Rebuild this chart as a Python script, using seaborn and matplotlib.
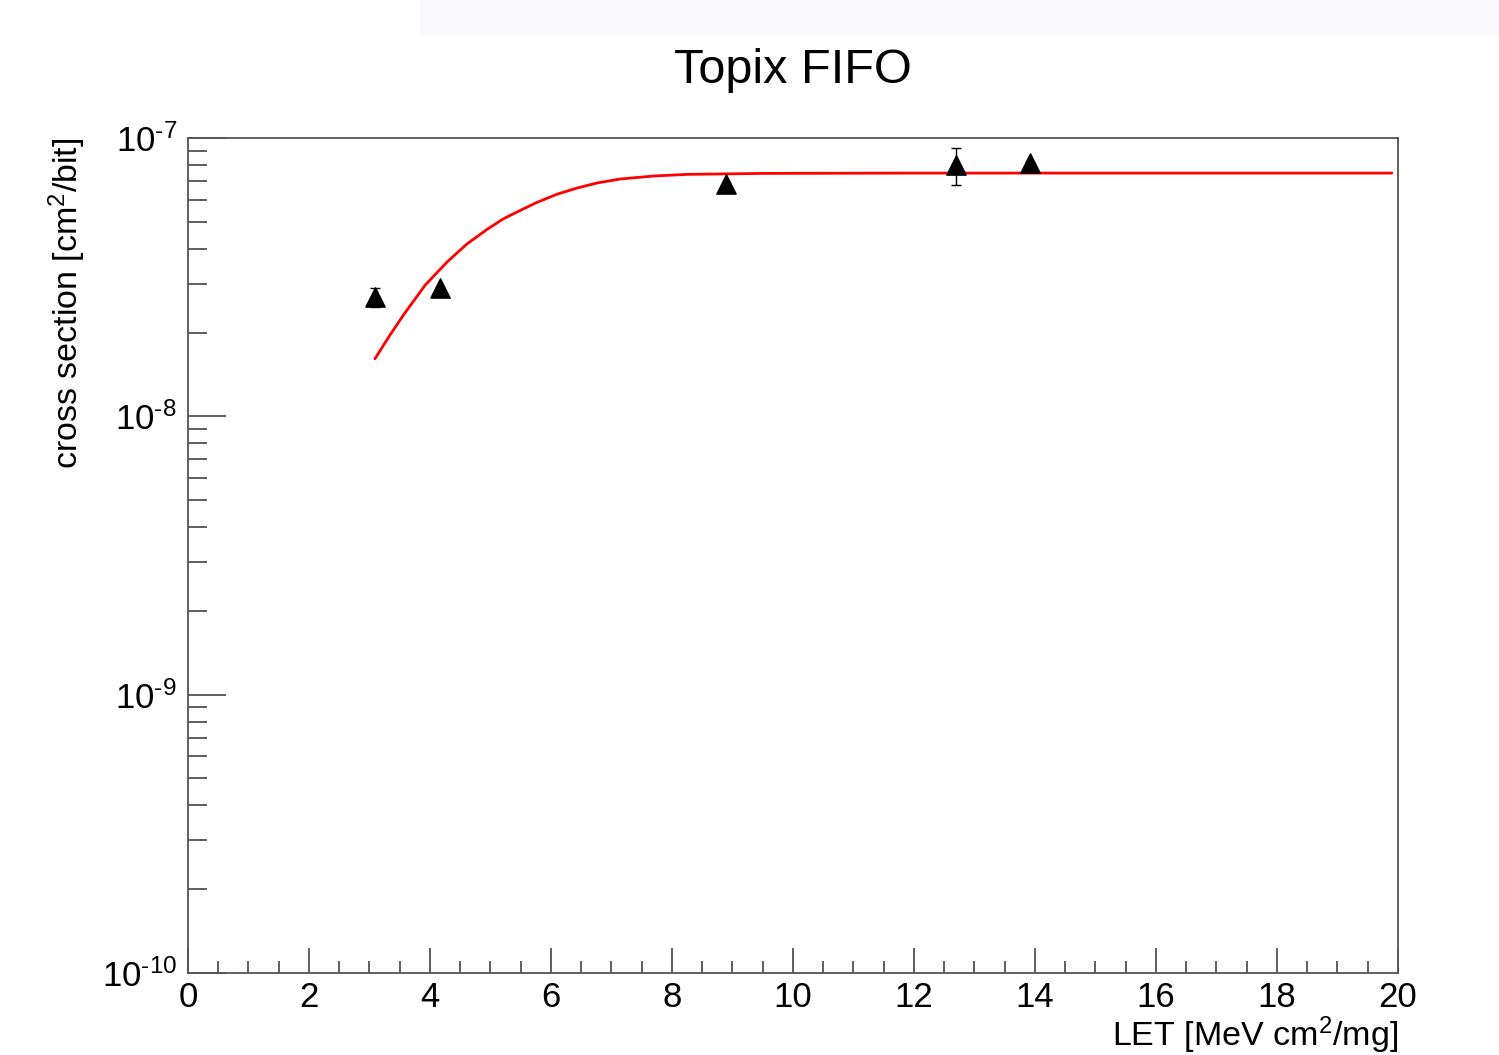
import numpy as np
import pandas as pd
import seaborn as sns
import matplotlib.pyplot as plt
from matplotlib.ticker import MultipleLocator, LogLocator, NullFormatter, FixedLocator
from matplotlib.patches import Rectangle

# measured points (LET, cross section, error)
let_pts = [3.09, 4.17, 8.90, 12.69, 13.91]
xs_pts = [2.68e-8, 2.90e-8, 6.85e-8, 8.00e-8, 8.11e-8]
xs_err = [0.21e-8, 0.0, 0.0, 1.2e-8, 0.0]

# fit curve
fit_let = [3.09, 3.34, 3.56, 3.92, 4.28, 4.61, 4.94, 5.21, 5.49, 5.76, 6.09, 6.43,
           6.76, 7.14, 7.69, 8.24, 9.5, 12.0, 16.0, 19.9]
fit_xs = [1.61e-8, 1.96e-8, 2.31e-8, 2.96e-8, 3.58e-8, 4.16e-8, 4.69e-8, 5.12e-8,
          5.49e-8, 5.86e-8, 6.27e-8, 6.61e-8, 6.89e-8, 7.12e-8, 7.30e-8, 7.40e-8,
          7.46e-8, 7.48e-8, 7.48e-8, 7.48e-8]

y_ticks = [1e-10, 1e-9, 1e-8, 1e-7]
y_ticklabels = [r'$10^{\text{-10}}$', r'$10^{\text{-9}}$', r'$10^{\text{-8}}$', r'$10^{\text{-7}}$']

sns.set_style('white')
plt.rcParams['font.family'] = ['Liberation Sans', 'DejaVu Sans']
plt.rcParams['mathtext.fontset'] = 'custom'
plt.rcParams['mathtext.rm'] = 'Liberation Sans'
plt.rcParams['mathtext.it'] = 'Liberation Sans'
plt.rcParams['text.color'] = 'black'
plt.rcParams['axes.labelcolor'] = 'black'
plt.rcParams['xtick.color'] = 'black'
plt.rcParams['ytick.color'] = 'black'

fig = plt.figure(figsize=(14.99, 10.55), dpi=100)
fig.patches.append(Rectangle((0.28, 0.968), 0.72, 0.032, transform=fig.transFigure,
                             color='#fafafd', zorder=0))
ax = fig.add_axes([0.1254, 0.0777, 0.8072, 0.7915])

pts = pd.DataFrame({'let': let_pts, 'xs': xs_pts})
fit = pd.DataFrame({'let': fit_let, 'xs': fit_xs})

sns.lineplot(data=fit, x='let', y='xs', color='#ff0000', linewidth=2, ax=ax, sort=False)
ax.errorbar(let_pts, xs_pts, yerr=xs_err, fmt='none', ecolor='black', elinewidth=1,
            capsize=3.5, capthick=1)
sns.scatterplot(data=pts, x='let', y='xs', marker='^', s=190, color='black',
                edgecolor='black', ax=ax, zorder=5)

ax.set_yscale('log')
ax.set_xlim(0, 20)
ax.set_ylim(1e-10, 1e-7)

ax.xaxis.set_major_locator(MultipleLocator(2))
ax.xaxis.set_minor_locator(MultipleLocator(0.5))
ax.yaxis.set_major_locator(FixedLocator(y_ticks))
ax.yaxis.set_minor_locator(LogLocator(base=10, subs=np.arange(2, 10), numticks=20))
ax.yaxis.set_minor_formatter(NullFormatter())
ax.set_yticklabels(y_ticklabels)

ax.tick_params(bottom=True, left=True, top=False, right=False, which='both')
ax.tick_params(axis='x', which='major', direction='in', length=18, width=1.1,
               color='#333333', labelsize=25, pad=6)
ax.tick_params(axis='x', which='minor', direction='in', length=9, width=1.1, color='#333333')
ax.tick_params(axis='y', which='major', direction='in', length=27, width=1.1,
               color='#333333', labelsize=25, pad=8)
ax.tick_params(axis='y', which='minor', direction='in', length=13.5, width=1.1, color='#333333')

for s in ax.spines.values():
    s.set_color('#555555')
    s.set_linewidth(1.3)

ax.set_xlabel(r'LET [MeV cm$^{2}$/mg]', fontsize=24.5, ha='right')
ax.xaxis.set_label_coords(1.0, -0.050)
ax.set_ylabel(r'cross section [cm$^{2}$/bit]', fontsize=24.5, ha='right')
ax.yaxis.set_label_coords(-0.0826, 1.0)
fig.text(0.529, 0.933, 'Topix FIFO', fontsize=35, ha='center', va='center')

fig.savefig('out.png', dpi=100, facecolor='white')
